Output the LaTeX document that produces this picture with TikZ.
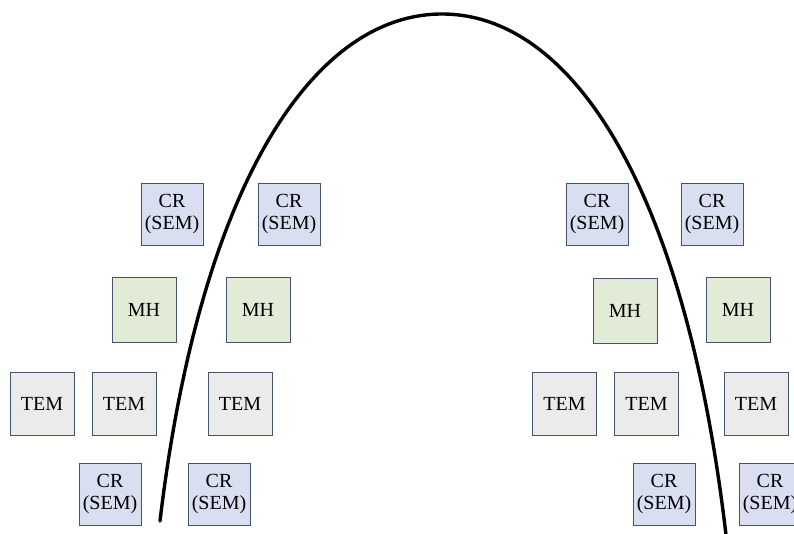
\documentclass[tikz,border=0pt]{standalone}
\usepackage{fontspec}
\setmainfont{Liberation Serif}
\definecolor{edgeblue}{HTML}{44546A}
\definecolor{crfill}{HTML}{D9DEF1}
\definecolor{mhfill}{HTML}{E2EBD6}
\definecolor{temfill}{HTML}{EBEBEB}
\tikzset{
  cell/.style={draw=edgeblue, line width=1pt, align=center, inner sep=0pt,
    font=\fontsize{20}{22.5}\selectfont},
  crbox/.style={cell, fill=crfill, minimum width=62pt, minimum height=62pt},
  mhbox/.style={cell, fill=mhfill, minimum width=64pt, minimum height=65pt},
  tembox/.style={cell, fill=temfill, minimum width=64pt, minimum height=63pt},
  arch/.style={line width=3.4pt, line cap=round}
}
\begin{document}
\begin{tikzpicture}[x=1pt,y=-1pt]
\useasboundingbox (0,0) rectangle (794,533);
\clip (0,0) rectangle (794,533);

% top row
\node[crbox] (cr1) at (172,214) {CR\\(SEM)};
\node[crbox] (cr2) at (289,214) {CR\\(SEM)};
\node[crbox] (cr3) at (597,214) {CR\\(SEM)};
\node[crbox] (cr4) at (712,214) {CR\\(SEM)};

% second row
\node[mhbox] (mh1) at (144,310) {MH};
\node[mhbox] (mh2) at (258,310) {MH};
\node[mhbox] (mh3) at (625,311) {MH};
\node[mhbox] (mh4) at (738,310) {MH};

% third row
\node[tembox] (tem1) at (42,403.5) {TEM};
\node[tembox] (tem2) at (124,403.5) {TEM};
\node[tembox] (tem3) at (240,403.5) {TEM};
\node[tembox] (tem4) at (564.5,403.5) {TEM};
\node[tembox] (tem5) at (646.5,403.5) {TEM};
\node[tembox] (tem6) at (756,403.5) {TEM};

% bottom row
\node[crbox] (cr5) at (110,494) {CR\\(SEM)};
\node[crbox] (cr6) at (219,494) {CR\\(SEM)};
\node[crbox] (cr7) at (664,494) {CR\\(SEM)};
\node[crbox] (cr8) at (770,494) {CR\\(SEM)};

% the arch: two mirrored cubic halves meeting at the apex
\coordinate (archL) at (160,521);
\coordinate (apex) at (442,14);
\coordinate (archR) at (726,535);
\draw[arch] (archL) .. controls (200,185) and (313,14) .. (apex)
                    .. controls (571,14) and (685,185) .. (archR);
\end{tikzpicture}
\end{document}
